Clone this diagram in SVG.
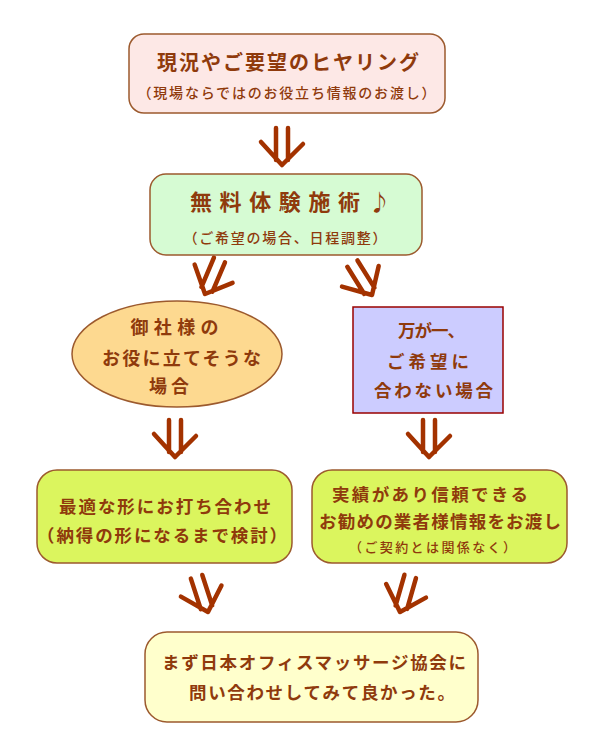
<svg xmlns="http://www.w3.org/2000/svg" xmlns:xlink="http://www.w3.org/1999/xlink" width="602" height="742" viewBox="0 0 602 742">
<style>
text{font-family:"Noto Sans CJK JP","Noto Sans",sans-serif;fill:#8f3a0c;text-anchor:middle;font-weight:700}
.t{font-size:20px}
.m{font-size:17.5px}
.s{font-size:14px;font-weight:500}
.xs{font-size:13px;font-weight:500}
.box{stroke:#9c5a2e;stroke-width:1.5}
.arw{fill:none;stroke:#a33200;stroke-width:4.5;stroke-linecap:round;stroke-linejoin:round}
</style>
<defs>
<path id="arw" class="arw" d="M-6,-37 L-6,-5 M6,-37 L6,-5 M-21,-23 L0,0 L21,-21"/>
</defs>
<rect width="602" height="742" fill="#ffffff"/>
<g id="connectors">
<use xlink:href="#arw" href="#arw" transform="translate(282,165)"/>
<use xlink:href="#arw" href="#arw" transform="translate(205,294) rotate(23)"/>
<use xlink:href="#arw" href="#arw" transform="translate(372,295) rotate(-32)"/>
<use xlink:href="#arw" href="#arw" transform="translate(175,457)"/>
<use xlink:href="#arw" href="#arw" transform="translate(429,457)"/>
<use xlink:href="#arw" href="#arw" transform="translate(208,612) rotate(-18)"/>
<use xlink:href="#arw" href="#arw" transform="translate(400,612) rotate(16)"/>
</g>
<g id="hearing">
<rect class="box" x="129" y="34" width="316" height="79" rx="15" fill="#fde8e6"/>
<text class="t" x="288" y="69.5" textLength="262" lengthAdjust="spacing">現況やご要望のヒヤリング</text>
<text class="s" x="286.5" y="98" textLength="298" lengthAdjust="spacing">（現場ならではのお役立ち情報のお渡し）</text>
</g>
<g id="trial">
<rect class="box" x="150" y="174" width="272" height="81" rx="16" fill="#d6fbd3"/>
<text style="font-size:22px" y="209.5"><tspan x="275" textLength="170" lengthAdjust="spacing">無料体験施術</tspan><tspan x="377"> ♪</tspan></text>
<text class="s" x="285" y="243" textLength="203" lengthAdjust="spacing">（ご希望の場合、日程調整）</text>
</g>
<g id="useful">
<ellipse class="box" cx="177" cy="354" rx="105" ry="53" fill="#fdd990"/>
<text style="font-size:18px" x="174.5" y="334" textLength="88" lengthAdjust="spacing">御社様の</text>
<text style="font-size:18px" x="181.5" y="365" textLength="159" lengthAdjust="spacing">お役に立てそうな</text>
<text style="font-size:18px" x="169" y="393" textLength="40" lengthAdjust="spacing">場合</text>
</g>
<g id="notmatch">
<rect x="353" y="307" width="150" height="106" fill="#ccccff" stroke="#990000" stroke-width="1.5"/>
<text class="m" x="431.5" y="336.5" textLength="67" lengthAdjust="spacing">万が一、</text>
<text class="m" x="428" y="367.5" textLength="82" lengthAdjust="spacing">ご希望に</text>
<text class="m" x="433.5" y="396.5" textLength="119" lengthAdjust="spacing">合わない場合</text>
</g>
<g id="meeting">
<rect class="box" x="37" y="470" width="255" height="93" rx="20" fill="#dbf55e"/>
<text class="m" x="165" y="512.5" textLength="212" lengthAdjust="spacing">最適な形にお打ち合わせ</text>
<text class="m" x="162" y="541.5" textLength="250" lengthAdjust="spacing">（納得の形になるまで検討）</text>
</g>
<g id="vendor">
<rect class="box" x="312" y="470" width="255" height="93" rx="20" fill="#dbf55e"/>
<text class="m" x="430" y="500.5" textLength="196" lengthAdjust="spacing">実績があり信頼できる</text>
<text class="m" x="440" y="527.5" textLength="242" lengthAdjust="spacing">お勧めの業者様情報をお渡し</text>
<text class="xs" x="432.5" y="552" textLength="167" lengthAdjust="spacing">（ご契約とは関係なく）</text>
</g>
<g id="result">
<rect class="box" x="145" y="632" width="333" height="90" rx="22" fill="#ffffcc"/>
<text class="m" x="314" y="668.5" textLength="304" lengthAdjust="spacing">まず日本オフィスマッサージ協会に</text>
<text class="m" x="322" y="698.5" textLength="266" lengthAdjust="spacing">問い合わせしてみて良かった。</text>
</g>
</svg>
